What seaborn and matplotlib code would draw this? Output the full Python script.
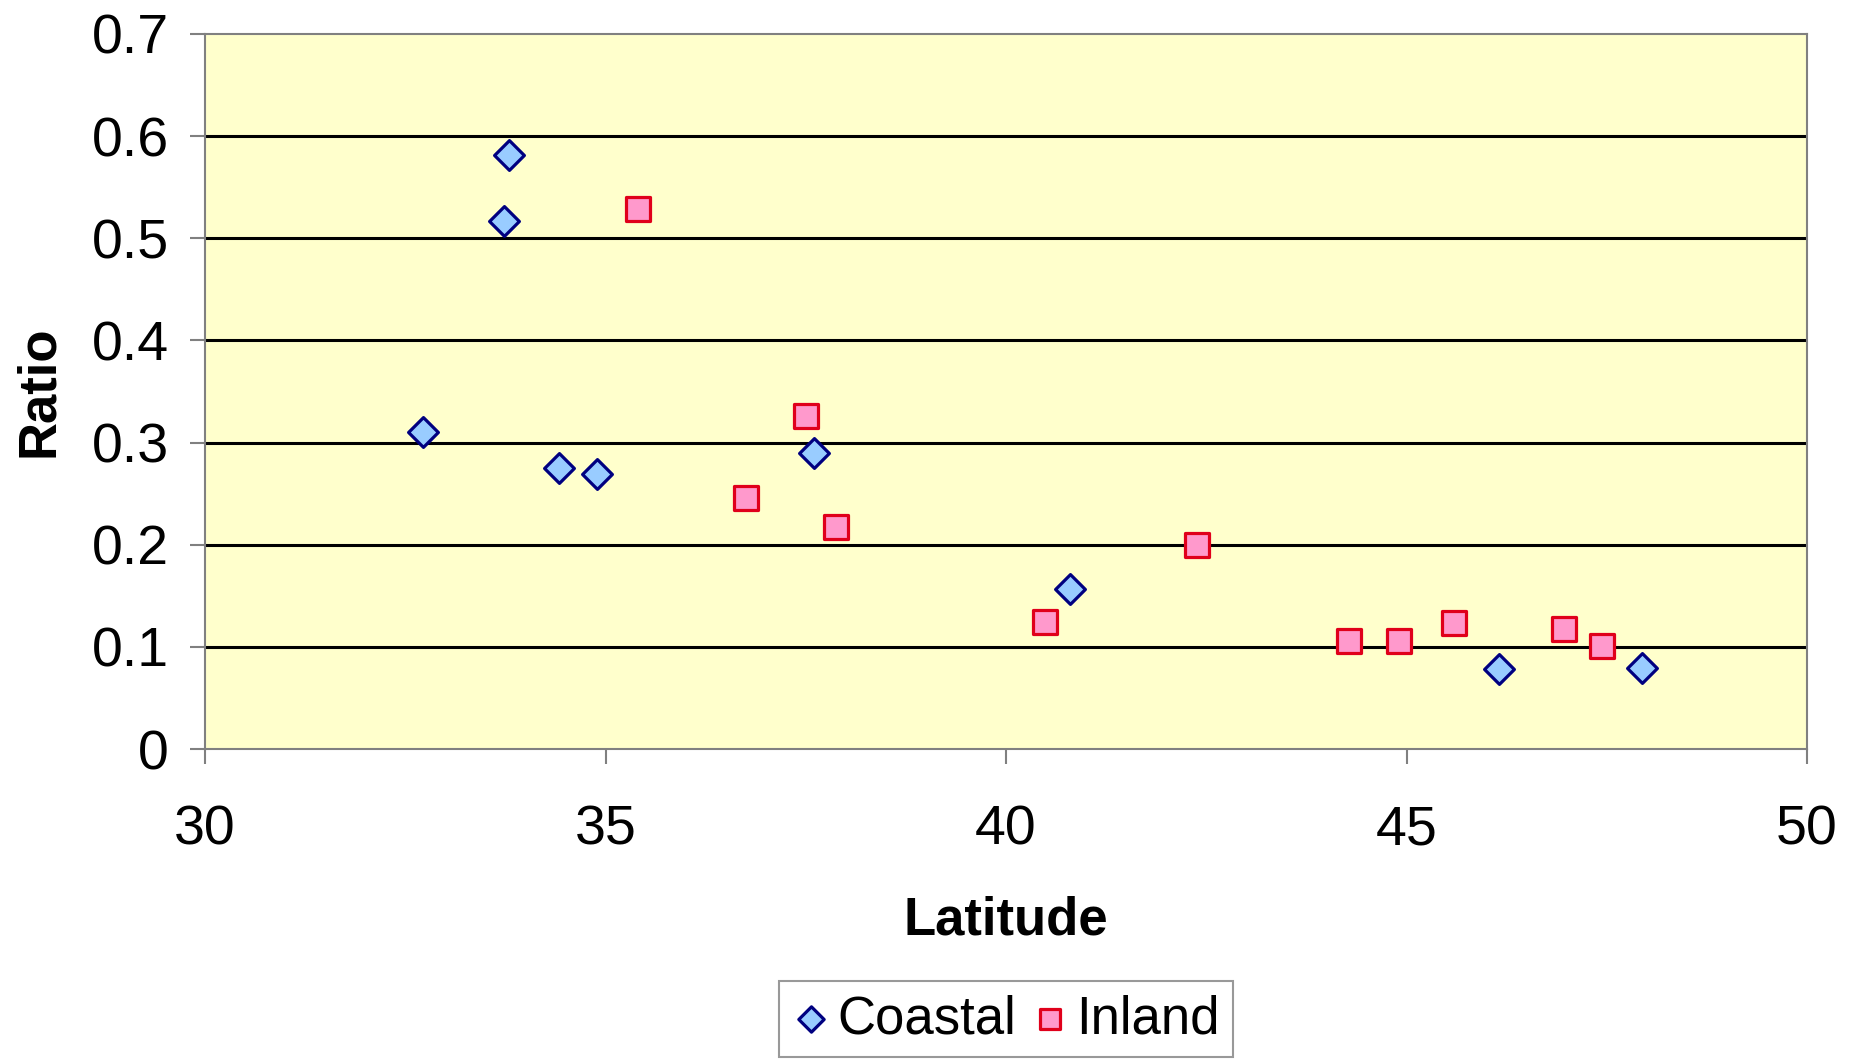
import numpy as np
import pandas as pd
import matplotlib
matplotlib.use("Agg")
import matplotlib.pyplot as plt
import seaborn as sns

# 데이터
coastal_lat = [32.72, 33.80, 33.73, 34.42, 34.90, 37.60, 40.80, 46.15, 47.94]
coastal_ratio = [0.310, 0.582, 0.517, 0.275, 0.269, 0.290, 0.157, 0.078, 0.079]
inland_lat = [35.40, 37.50, 36.75, 37.88, 42.38, 40.49, 44.28, 44.91, 45.59, 46.97, 47.44]
inland_ratio = [0.529, 0.326, 0.246, 0.217, 0.200, 0.124, 0.106, 0.106, 0.123, 0.117, 0.101]
x_ticks = [30, 35, 40, 45, 50]
y_ticks = [0, 0.1, 0.2, 0.3, 0.4, 0.5, 0.6, 0.7]
y_ticklabels = ["0", "0.1", "0.2", "0.3", "0.4", "0.5", "0.6", "0.7"]

df = pd.DataFrame({
    "Latitude": coastal_lat + inland_lat,
    "Ratio": coastal_ratio + inland_ratio,
    "site": ["Coastal"] * len(coastal_lat) + ["Inland"] * len(inland_lat),
})

sns.set_style("white")
plt.rcParams["font.family"] = ["Liberation Sans", "DejaVu Sans"]
plt.rcParams["text.color"] = "black"
plt.rcParams["axes.labelcolor"] = "black"

fig = plt.figure(figsize=(18.58, 10.60), dpi=100)
ax = fig.add_axes([205 / 1858, 1 - 749 / 1060, 1602 / 1858, 715 / 1060])
ax.set_facecolor("#FFFFCC")

# 마커별로 따로 그림 (크기가 다름)
sns.scatterplot(data=df[df.site == "Coastal"], x="Latitude", y="Ratio", ax=ax,
                marker="D", s=230, color="#99CCFF", edgecolor="#000080",
                linewidth=2.3, label="Coastal", zorder=3)
sns.scatterplot(data=df[df.site == "Inland"], x="Latitude", y="Ratio", ax=ax,
                marker="s", s=310, color="#FF99CC", edgecolor="#E0001B",
                linewidth=2.3, label="Inland", zorder=3)

ax.set_xlim(30, 50)
ax.set_ylim(0, 0.7)
ax.set_xticks(x_ticks)
ax.set_yticks(y_ticks)
ax.set_yticklabels(y_ticklabels)
for y in y_ticks[1:-1]:
    ax.axhline(y, color="black", lw=2.2, zorder=1)

for s in ax.spines.values():
    s.set_color("#808080")
    s.set_linewidth(1.5)
ax.tick_params(axis="both", direction="out", length=11, width=1.5, color="#808080",
               labelsize=40, labelcolor="black", bottom=True, left=True)
ax.tick_params(axis="x", pad=29)
ax.tick_params(axis="y", pad=15)

ax.set_xlabel("Latitude", fontsize=38, fontweight="bold", labelpad=28)
ax.set_ylabel("Ratio", fontsize=38, fontweight="bold", labelpad=20)

ax.get_legend().remove()
handles, labels = ax.get_legend_handles_labels()
leg = fig.legend(handles, labels, loc="lower center", bbox_to_anchor=(1006 / 1858, 0.0),
                 ncol=2, fontsize=38, frameon=True, fancybox=False,
                 handletextpad=0.15, columnspacing=0.3, borderpad=0.25,
                 borderaxespad=0.05, handlelength=0.7, markerscale=0.85)
leg.get_frame().set_edgecolor("#808080")
leg.get_frame().set_linewidth(1.5)

fig.savefig("out.png", dpi=100, facecolor="white")
